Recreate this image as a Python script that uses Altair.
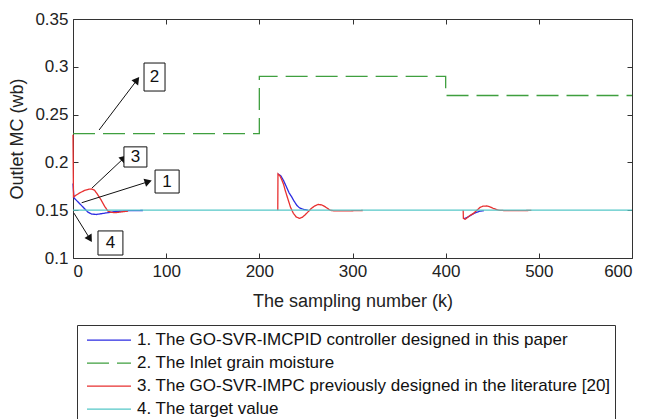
import math
import altair as alt
import pandas as pd

FONT = "Liberation Sans"

# ---------------- data ----------------
series_names = [
    "1. The GO-SVR-IMCPID controller designed in this paper",
    "2. The Inlet grain moisture",
    "3. The GO-SVR-IMPC previously designed in the literature [20]",
    "4. The target value",
]
series_colors = ["#2c2ce2", "#3f9f3f", "#e83030", "#55c8c8"]
series_dashes = [[1, 0], [22, 8], [1, 0], [1, 0]]

blue_seg1_k = [0, 1, 4, 9, 13, 16, 20, 25, 30, 36, 41, 46, 52, 60, 75]
blue_seg1_v = [0.178, 0.163, 0.160, 0.155, 0.151, 0.148, 0.146, 0.1455, 0.1463, 0.1472, 0.148, 0.1487, 0.149, 0.1495, 0.1497]
blue_seg2_k = [220, 223, 226, 229, 232, 235, 237, 240, 243, 247, 252]
blue_seg2_v = [0.188, 0.186, 0.181, 0.1746, 0.168, 0.1635, 0.160, 0.1554, 0.1525, 0.151, 0.150]
blue_seg3_k = [419.5, 423, 426, 430, 433, 437, 441]
blue_seg3_v = [0.141, 0.1425, 0.144, 0.1465, 0.1478, 0.149, 0.1495]

green_k = [0, 200, 200, 400, 400, 600]
green_v = [0.23, 0.23, 0.29, 0.29, 0.27, 0.27]

red_seg1_k = [0, 0.5, 3, 7, 12, 17, 20, 23, 26, 30, 34, 37.5, 41, 45, 49, 54, 59]
red_seg1_v = [0.229, 0.164, 0.1655, 0.168, 0.1705, 0.172, 0.1722, 0.171, 0.167, 0.161, 0.154, 0.149, 0.1478, 0.1474, 0.1478, 0.1485, 0.149]
red_seg2_k = [219.8, 220, 222, 224, 226, 228, 231, 233.5, 236.5, 239.5, 243, 246, 249, 252.5, 256, 259.5, 263, 267, 270.5, 273, 276, 280, 295, 311]
red_seg2_v = [0.150, 0.188, 0.186, 0.182, 0.177, 0.170, 0.1607, 0.153, 0.1468, 0.143, 0.1415, 0.1425, 0.145, 0.1485, 0.152, 0.1545, 0.156, 0.1555, 0.1537, 0.152, 0.150, 0.1493, 0.1493, 0.1497]
red_seg3_k = [418.8, 419, 421, 423, 426, 430, 433, 437, 440, 444, 447.5, 451, 456.5, 465, 480, 492]
red_seg3_v = [0.150, 0.1415, 0.1405, 0.142, 0.1445, 0.1467, 0.1495, 0.153, 0.1542, 0.1544, 0.1535, 0.152, 0.150, 0.1495, 0.1495, 0.1498]

target_k = [0, 600]
target_v = [0.15, 0.15]

x_ticks = [0, 100, 200, 300, 400, 500, 600]
y_ticks = [0.1, 0.15, 0.2, 0.25, 0.3, 0.35]

# annotation boxes (data coordinates)
box_labels = ["1", "2", "3", "4"]
box_k = [101, 87.5, 67, 40.2]
box_v = [0.18, 0.2893, 0.2057, 0.1157]
box_paths = [
    "M-0.86,-0.82H0.86V0.82H-0.86Z",
    "M-0.75,-1H0.75V1H-0.75Z",
    "M-0.82,-0.72H0.82V0.72H-0.82Z",
    "M-0.89,-0.86H0.89V0.86H-0.89Z",
]
# arrows: tail -> head (data coordinates)
arrow_k0 = [9.3, 28, 20.4, 1]
arrow_v0 = [0.1578, 0.2339, 0.1732, 0.147]
arrow_k1 = [80.8, 68.7, 54.7, 18.2]
arrow_v1 = [0.1798, 0.2862, 0.2046, 0.12]

# ---------------- frames ----------------
W, H = 559, 239


def seg_frame(name, segs):
    rows = []
    for si, (ks, vs) in enumerate(segs):
        for i, (k, v) in enumerate(zip(ks, vs)):
            rows.append({"k": k, "v": v, "series": name, "seg": si, "idx": i})
    return pd.DataFrame(rows)


df_blue = seg_frame(series_names[0], [(blue_seg1_k, blue_seg1_v), (blue_seg2_k, blue_seg2_v), (blue_seg3_k, blue_seg3_v)])
df_green = seg_frame(series_names[1], [(green_k, green_v)])
df_red = seg_frame(series_names[2], [(red_seg1_k, red_seg1_v), (red_seg2_k, red_seg2_v), (red_seg3_k, red_seg3_v)])
df_cyan = seg_frame(series_names[3], [(target_k, target_v)])

px_k = W / 600.0
px_v = H / 0.25
angles = []
for k0, v0, k1, v1 in zip(arrow_k0, arrow_v0, arrow_k1, arrow_v1):
    dx = (k1 - k0) * px_k
    dy = (v1 - v0) * px_v
    angles.append(math.degrees(math.atan2(dx, dy)) % 360)
df_arrows = pd.DataFrame({"k0": arrow_k0, "v0": arrow_v0, "k1": arrow_k1, "v1": arrow_v1, "ang": angles})
df_boxes = pd.DataFrame({"k": box_k, "v": box_v, "label": box_labels})

# ---------------- scales / axes ----------------
xs = alt.Scale(domain=[0, 600], nice=False, zero=False)
ys = alt.Scale(domain=[0.1, 0.35], nice=False, zero=False)
color_scale = alt.Scale(domain=series_names, range=series_colors)
dash_scale = alt.Scale(domain=series_names, range=series_dashes)

legend = alt.Legend(
    orient="none", legendX=4, legendY=306, title=None,
    symbolType="stroke", symbolSize=44 * 44, symbolStrokeWidth=1.3,
    clipHeight=22.4, rowPadding=0, padding=4, symbolOffset=5, labelOffset=5,
    labelFontSize=17, labelFont=FONT, labelColor="#111", labelLimit=700,
    strokeColor="#333", fillColor="white", cornerRadius=0,
)

text_style = dict(labelFont=FONT, titleFont=FONT, labelColor="#222", titleColor="#222",
                  labelFontSize=17, titleFontSize=18, titleFontWeight="normal", grid=False)

x_main = alt.Axis(orient="bottom", values=x_ticks, format="d", ticks=False, domain=False,
                  labelPadding=5, title="The sampling number (k)", titlePadding=13, **text_style)
y_main = alt.Axis(orient="left", values=y_ticks, format="~g", ticks=False, domain=False,
                  labelPadding=5, title="Outlet MC (wb)", titlePadding=8, **text_style)

tick_only = dict(labels=False, domain=False, title=None, ticks=True, tickSize=5,
                 tickColor="#333", tickWidth=1, grid=False, offset=-5)
x_bottom_ticks = alt.Axis(orient="bottom", values=x_ticks, **tick_only)
x_top_ticks = alt.Axis(orient="top", values=x_ticks, **tick_only)
y_left_ticks = alt.Axis(orient="left", values=y_ticks, **tick_only)
y_right_ticks = alt.Axis(orient="right", values=y_ticks, **tick_only)


def line_layer(df, xaxis, yaxis):
    return alt.Chart(df).mark_line(strokeWidth=1.3).encode(
        x=alt.X("k:Q", scale=xs, axis=xaxis),
        y=alt.Y("v:Q", scale=ys, axis=yaxis),
        color=alt.Color("series:N", scale=color_scale, legend=legend),
        strokeDash=alt.StrokeDash("series:N", scale=dash_scale, legend=legend),
        detail="seg:N",
        order="idx:Q",
    )


blue = line_layer(df_blue, x_main, y_main)
green = line_layer(df_green, x_bottom_ticks, y_left_ticks)
red = line_layer(df_red, x_top_ticks, y_right_ticks)
cyan = line_layer(df_cyan, None, None)

arrows = alt.Chart(df_arrows).mark_rule(color="#111", strokeWidth=1).encode(
    x=alt.X("k0:Q", scale=xs, axis=None), y=alt.Y("v0:Q", scale=ys, axis=None),
    x2="k1:Q", y2="v1:Q",
)
heads = alt.Chart(df_arrows).mark_point(shape="triangle-up", filled=True, color="#111",
                                        size=70, opacity=1).encode(
    x=alt.X("k1:Q", scale=xs, axis=None), y=alt.Y("v1:Q", scale=ys, axis=None),
    angle=alt.Angle("ang:Q", scale=None),
)
boxes = alt.Chart(df_boxes).mark_point(filled=True, fill="white", stroke="#111",
                                       strokeWidth=1, size=784, opacity=1).encode(
    x=alt.X("k:Q", scale=xs, axis=None), y=alt.Y("v:Q", scale=ys, axis=None),
    shape=alt.Shape("label:N", scale=alt.Scale(domain=box_labels, range=box_paths), legend=None),
)
box_text = alt.Chart(df_boxes).mark_text(font=FONT, fontSize=17, color="#111").encode(
    x=alt.X("k:Q", scale=xs, axis=None), y=alt.Y("v:Q", scale=ys, axis=None),
    text="label:N",
)

chart = alt.layer(blue, green, red, cyan, arrows, heads, boxes, box_text).resolve_axis(
    x="independent", y="independent"
).properties(
    width=W, height=H,
    autosize=alt.AutoSizeParams(type="none"),
    padding={"left": 73, "top": 19, "right": 15, "bottom": 161},
    background="white",
).configure_view(stroke="#333", strokeWidth=1)

chart.save("out.html", embed_options={"renderer": "svg", "actions": False})
